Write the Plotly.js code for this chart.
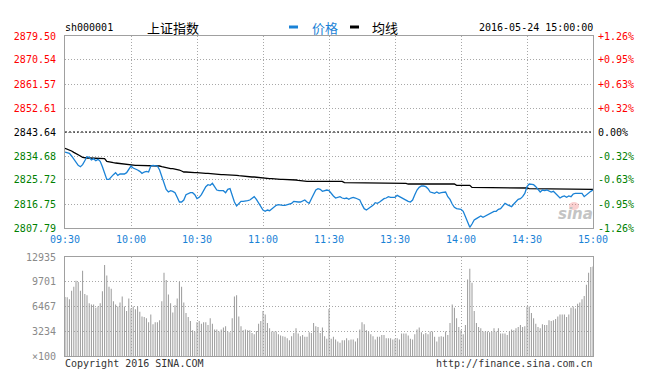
<!DOCTYPE html>
<html>
<head>
<meta charset="utf-8">
<script src="https://cdn.plot.ly/plotly-3.0.1.min.js"></script>
<style>html,body{margin:0;padding:0;background:#fff;}#chart{width:655px;height:386px;}</style>
</head>
<body>
<div id="chart"></div>
<script>
// ---- data ----
const symbol = 'sh000001';
const indexName = '上证指数';
const stampText = '2016-05-24 15:00:00';
const prevClose = 2843.64;
const timeLabels = ['09:30','10:00','10:30','11:00','11:30','13:30','14:00','14:30','15:00'];
const timeTickIdx = [0,30,60,90,120,150,180,210,240];
const priceTicks = [2879.50, 2870.54, 2861.57, 2852.61, 2843.64, 2834.68, 2825.72, 2816.75, 2807.79];
const pctLabels = ['+1.26%','+0.95%','+0.63%','+0.32%','0.00%','-0.32%','-0.63%','-0.95%','-1.26%'];
const volTicks = [0, 3234, 6467, 9701, 12935];
const volLabels = ['×100','3234','6467','9701','12935'];

const price = [
2836.17,2835.92,2835.67,2834.68,2833.43,2832.19,2831.19,2830.69,2831.44,2832.93,
2834.43,2834.18,2833.18,2833.68,2832.93,2833.43,2832.69,2830.69,2828.20,2825.96,
2825.96,2826.96,2827.71,2828.45,2827.46,2827.95,2827.95,2827.95,2828.45,2829.95,
2830.94,2830.20,2829.95,2829.45,2828.95,2828.20,2828.70,2828.95,2828.70,2830.94,
2831.19,2831.19,2830.94,2829.45,2826.96,2824.47,2822.23,2821.23,2821.73,2821.48,
2820.98,2819.24,2817.50,2817.50,2818.24,2820.24,2820.73,2820.98,2820.98,2820.24,
2818.74,2819.24,2820.24,2821.98,2823.22,2823.97,2823.72,2824.47,2823.22,2821.98,
2821.73,2821.73,2821.73,2820.98,2822.23,2822.48,2819.49,2817.50,2816.00,2816.75,
2817.75,2817.75,2817.75,2818.00,2818.24,2818.99,2819.49,2818.49,2817.00,2815.75,
2814.51,2814.01,2814.51,2814.26,2815.01,2815.75,2816.25,2816.50,2816.25,2816.25,
2816.25,2816.50,2816.75,2817.00,2817.75,2817.50,2817.50,2817.50,2817.75,2818.24,
2817.50,2817.00,2818.74,2820.24,2821.98,2822.48,2822.23,2821.48,2821.73,2821.98,
2821.73,
2820.49,2819.74,2818.99,2819.24,2819.49,2818.99,2818.74,2818.99,2818.49,2818.99,
2819.24,2818.99,2818.74,2818.24,2816.50,2815.01,2814.51,2815.01,2815.51,2816.25,
2817.25,2817.00,2817.50,2818.24,2818.74,2818.99,2819.49,2819.24,2819.24,2819.24,
2819.99,2819.49,2818.99,2818.74,2818.24,2817.75,2817.50,2818.24,2820.24,2821.98,
2822.97,2823.47,2823.47,2823.22,2822.48,2821.23,2820.98,2820.73,2821.23,2820.73,
2820.98,2820.98,2821.23,2819.49,2818.49,2816.75,2815.51,2815.01,2814.76,2814.76,
2814.01,2811.77,2810.28,2808.04,2809.28,2810.77,2811.27,2811.77,2812.27,2811.77,
2812.27,2812.52,2813.26,2813.76,2814.01,2814.01,2814.76,2815.01,2816.25,2817.00,
2816.50,2816.00,2815.75,2816.75,2817.75,2818.49,2818.74,2819.49,2820.73,2823.22,
2824.22,2824.22,2823.97,2823.22,2821.98,2821.23,2821.98,2821.73,2821.98,2821.73,
2821.23,2821.48,2820.73,2819.74,2818.99,2819.49,2819.74,2819.24,2819.74,2819.49,
2820.49,2820.73,2820.73,2820.49,2820.73,2819.49,2820.24,2820.73,2821.48,2821.98
];

const avgPrice = [
2837.54,2837.29,2836.92,2836.54,2836.05,2835.67,2835.17,2834.68,2834.18,2833.93,
2833.93,2833.93,2833.93,2833.93,2833.93,2833.93,2833.93,2833.93,2833.68,2832.69,
2832.44,2832.31,2832.19,2832.06,2831.94,2831.81,2831.69,2831.56,2831.44,2831.32,
2831.19,2831.19,2831.19,2831.19,2831.19,2831.19,2831.19,2831.19,2831.19,2831.19,
2831.19,2831.19,2831.19,2830.94,2830.69,2830.44,2830.20,2830.20,2829.95,2829.95,
2829.82,2829.70,2829.45,2829.07,2828.70,2828.70,2828.58,2828.58,2828.45,2828.45,
2828.45,2828.33,2828.33,2828.20,2828.20,2828.20,2828.08,2827.95,2827.95,2827.83,
2827.83,2827.71,2827.71,2827.71,2827.58,2827.58,2827.58,2827.46,2827.46,2827.33,
2827.21,2827.21,2827.08,2826.96,2826.96,2826.83,2826.83,2826.71,2826.59,2826.46,
2826.46,2826.34,2826.21,2826.21,2826.21,2826.09,2826.09,2825.96,2825.96,2825.96,
2825.96,2825.84,2825.84,2825.71,2825.71,2825.71,2825.59,2825.46,2825.34,2825.22,
2825.22,2825.22,2825.22,2825.22,2825.22,2825.22,2825.22,2825.22,2825.22,2825.22,
2825.22,
2825.22,2825.22,2825.22,2825.22,2825.22,2825.22,2824.72,2824.72,2824.72,2824.72,
2824.72,2824.72,2824.72,2824.72,2824.72,2824.72,2824.72,2824.47,2824.47,2824.47,
2824.47,2824.47,2824.47,2824.47,2824.47,2824.47,2824.47,2824.47,2824.47,2824.47,
2824.47,2824.47,2824.47,2824.47,2824.47,2824.22,2824.22,2824.22,2824.22,2824.22,
2824.22,2824.22,2824.22,2824.22,2824.22,2824.22,2824.22,2824.22,2824.22,2824.22,
2824.22,2824.22,2824.22,2824.22,2824.22,2824.22,2824.22,2823.72,2823.72,2823.72,
2823.72,2823.72,2823.72,2823.72,2822.97,2822.97,2822.97,2822.97,2822.97,2822.97,
2822.97,2822.97,2822.97,2822.73,2822.73,2822.73,2822.73,2822.73,2822.73,2822.73,
2822.73,2822.73,2822.73,2822.73,2822.73,2822.73,2822.73,2822.73,2822.73,2822.73,
2822.48,2822.48,2822.48,2822.48,2822.48,2822.48,2822.48,2822.48,2822.48,2822.48,
2822.48,2822.48,2822.48,2822.48,2822.48,2822.23,2822.23,2822.23,2822.23,2822.23,
2822.23,2822.23,2822.23,2822.23,2822.23,2822.23,2822.23,2822.23,2822.23,2822.23
];

const volume = [
7700,
7675,7417,8538,9055,9831,9659,8538,11125,8107,7934,
6899,6727,6727,6296,6468,6899,8452,11901,10521,9055,
8796,7158,6727,6468,6985,7762,6468,5864,7503,6209,
6468,6123,6468,5778,5174,5088,4916,4398,5433,4140,
4398,4398,4657,7158,10866,9918,8020,6899,5692,6640,
7503,9659,9055,6985,5606,5088,4571,3363,3191,
4398,4571,4226,4398,4398,4053,4916,4226,3450,3450,
3191,3450,3708,3881,3191,3105,4916,7762,7934,5174,
3881,3363,3450,3363,3363,3018,2846,3277,4226,4571,
5864,5433,4312,3622,3191,3191,3191,2846,2673,2587,
2501,2328,2070,2587,3018,3622,2932,2587,2760,2501,
2501,3105,3018,4312,3881,3795,3018,3708,2587,2242,
6150,
2242,2501,2156,1897,1725,2070,2070,2328,2070,2156,
2156,1897,2328,3450,4398,4140,3363,3191,2846,2587,
2156,2501,2501,2760,2760,2328,2328,2328,2156,2242,
2328,2156,2932,2932,2932,2673,2242,2156,2846,3450,
3708,3105,2846,3018,2846,3191,3191,2501,1897,2501,
2587,2501,3191,2760,4312,6727,6296,4916,3795,3363,
2846,4053,10004,11384,9573,5864,4312,3795,3622,3191,
3191,3191,3105,3191,3622,3191,3622,2932,2932,2932,
2760,3191,3450,3363,3622,3795,4053,3795,3881,6468,
6468,5606,4916,4226,3795,3622,4140,4053,4053,4657,
4571,4657,4829,5174,5433,5433,5433,5088,5433,6296,
6468,6209,6813,6985,7417,7848,9314,10866,11642,11700
];

// ---- drawing ----
const idx = price.map((_, i) => i);
const mono = 'DejaVu Sans Mono, Liberation Mono, monospace';
const cjk = 'Noto Sans CJK SC, sans-serif';
const RED = '#ff0000', GREEN = '#008000', BLUE = '#1a82d6';

function colored(text, val) {
  const c = val > prevClose + 0.001 ? RED : (val < prevClose - 0.001 ? GREEN : '#000');
  return '<span style="color:' + c + '">' + text + '</span>';
}
const leftText = priceTicks.map(v => colored(v.toFixed(2), v));
const rightText = priceTicks.map((v, i) => colored(pctLabels[i], v));

const gridCol = '#a8a8a8';
const gridDash = '1px,2px';
const frameCol = '#a0a0a0';

const traces = [
  {x: idx, y: volume, type: 'bar', xaxis: 'x2', yaxis: 'y2', width: 0.45,
   marker: {color: '#999999', line: {width: 0}}, hoverinfo: 'skip'},
  {x: idx, y: avgPrice, type: 'scatter', mode: 'lines', xaxis: 'x', yaxis: 'y',
   line: {color: '#000000', width: 1.3}, hoverinfo: 'skip'},
  {x: idx, y: price, type: 'scatter', mode: 'lines', xaxis: 'x', yaxis: 'y',
   line: {color: BLUE, width: 1.3}, hoverinfo: 'skip'},
  {x: idx, y: price, type: 'scatter', mode: 'lines', xaxis: 'x', yaxis: 'y3',
   line: {width: 0}, opacity: 0, hoverinfo: 'skip'}
];

const W = 528, H = 320, L = 65, B = 30;
const px = v => (v - L) / W;
const py = v => (386 - B - v) / H;

const layout = {
  width: 655, height: 386,
  margin: {l: 65, r: 62, t: 36, b: 30, pad: 0},
  paper_bgcolor: '#ffffff', plot_bgcolor: '#ffffff',
  showlegend: false,
  font: {family: mono, size: 10, color: '#000'},
  xaxis: {domain: [0, 1], anchor: 'y', range: [0, 240], tickmode: 'array',
    tickvals: timeTickIdx, ticktext: timeLabels, ticks: '', ticklabelstandoff: 2,
    tickfont: {family: mono, size: 10, color: BLUE},
    showgrid: true, gridcolor: gridCol, griddash: gridDash, gridwidth: 1,
    showline: true, linecolor: frameCol, linewidth: 1, mirror: true, zeroline: false, fixedrange: true},
  xaxis2: {domain: [0, 1], anchor: 'y2', range: [0, 240], tickmode: 'array',
    tickvals: timeTickIdx, showticklabels: false, ticks: '',
    showgrid: true, gridcolor: gridCol, griddash: gridDash, gridwidth: 1,
    showline: true, linecolor: frameCol, linewidth: 1, mirror: true, zeroline: false},
  yaxis: {domain: [0.4, 1], anchor: 'x', range: [priceTicks[priceTicks.length - 1], priceTicks[0]],
    tickmode: 'array', tickvals: priceTicks, ticktext: leftText, ticks: '', ticklabelstandoff: 6,
    tickfont: {family: mono, size: 10},
    showgrid: true, gridcolor: gridCol, griddash: gridDash, gridwidth: 1,
    showline: true, linecolor: frameCol, linewidth: 1, mirror: true, zeroline: false},
  yaxis3: {overlaying: 'y', side: 'right', anchor: 'x', range: [priceTicks[priceTicks.length - 1], priceTicks[0]],
    tickmode: 'array', tickvals: priceTicks, ticktext: rightText, ticks: '', ticklabelstandoff: 4,
    tickfont: {family: mono, size: 10}, showgrid: false, showline: false, zeroline: false},
  yaxis2: {domain: [0, 0.309375], anchor: 'x2', range: [0, volTicks[volTicks.length - 1]],
    tickmode: 'array', tickvals: volTicks, ticktext: volLabels, ticks: '', ticklabelstandoff: 6,
    tickfont: {family: mono, size: 10, color: '#8a8a8a'},
    showgrid: true, gridcolor: gridCol, griddash: gridDash, gridwidth: 1,
    showline: true, linecolor: frameCol, linewidth: 1, mirror: true, zeroline: false},
  shapes: [
    {type: 'line', xref: 'x', yref: 'y', x0: 0, x1: 240, y0: prevClose, y1: prevClose,
     line: {color: '#000', width: 1, dash: '2px,2px'}},
    {type: 'line', xref: 'paper', yref: 'paper', x0: px(289), x1: px(298), y0: py(27), y1: py(27),
     line: {color: BLUE, width: 3}},
    {type: 'line', xref: 'paper', yref: 'paper', x0: px(350), x1: px(359), y0: py(27), y1: py(27),
     line: {color: '#000', width: 3}},
    {type: 'circle', xref: 'paper', yref: 'paper', x0: px(569), x1: px(579), y0: py(210), y1: py(202),
     fillcolor: 'rgba(240,120,120,0.35)', line: {width: 0}}
  ],
  annotations: [
    {xref: 'paper', yref: 'paper', x: px(63), y: py(27), xanchor: 'left', yanchor: 'middle', showarrow: false,
     text: symbol, font: {family: mono, size: 10, color: '#000'}},
    {xref: 'paper', yref: 'paper', x: px(145), y: py(27), xanchor: 'left', yanchor: 'middle', showarrow: false,
     text: indexName, font: {family: cjk, size: 13, color: '#000'}},
    {xref: 'paper', yref: 'paper', x: px(310), y: py(27), xanchor: 'left', yanchor: 'middle', showarrow: false,
     text: '价格', font: {family: cjk, size: 13, color: BLUE}},
    {xref: 'paper', yref: 'paper', x: px(370), y: py(27), xanchor: 'left', yanchor: 'middle', showarrow: false,
     text: '均线', font: {family: cjk, size: 13, color: '#000'}},
    {xref: 'paper', yref: 'paper', x: px(595), y: py(27), xanchor: 'right', yanchor: 'middle', showarrow: false,
     text: stampText, font: {family: mono, size: 10, color: '#000'}},
    {xref: 'paper', yref: 'paper', x: px(63), y: py(363), xanchor: 'left', yanchor: 'middle', showarrow: false,
     text: 'Copyright 2016 SINA.COM', font: {family: mono, size: 10, color: '#333'}},
    {xref: 'paper', yref: 'paper', x: px(595), y: py(363), xanchor: 'right', yanchor: 'middle', showarrow: false,
     text: 'http://finance.sina.com.cn', font: {family: mono, size: 10, color: '#333'}},
    {xref: 'paper', yref: 'paper', x: px(575), y: py(214), xanchor: 'center', yanchor: 'middle', showarrow: false,
     text: '<b><i>sina</i></b>', font: {family: 'DejaVu Sans, sans-serif', size: 15, color: '#c4c4c4'}}
  ]
};

Plotly.newPlot('chart', traces, layout, {staticPlot: true, displayModeBar: false});
</script>
</body>
</html>
